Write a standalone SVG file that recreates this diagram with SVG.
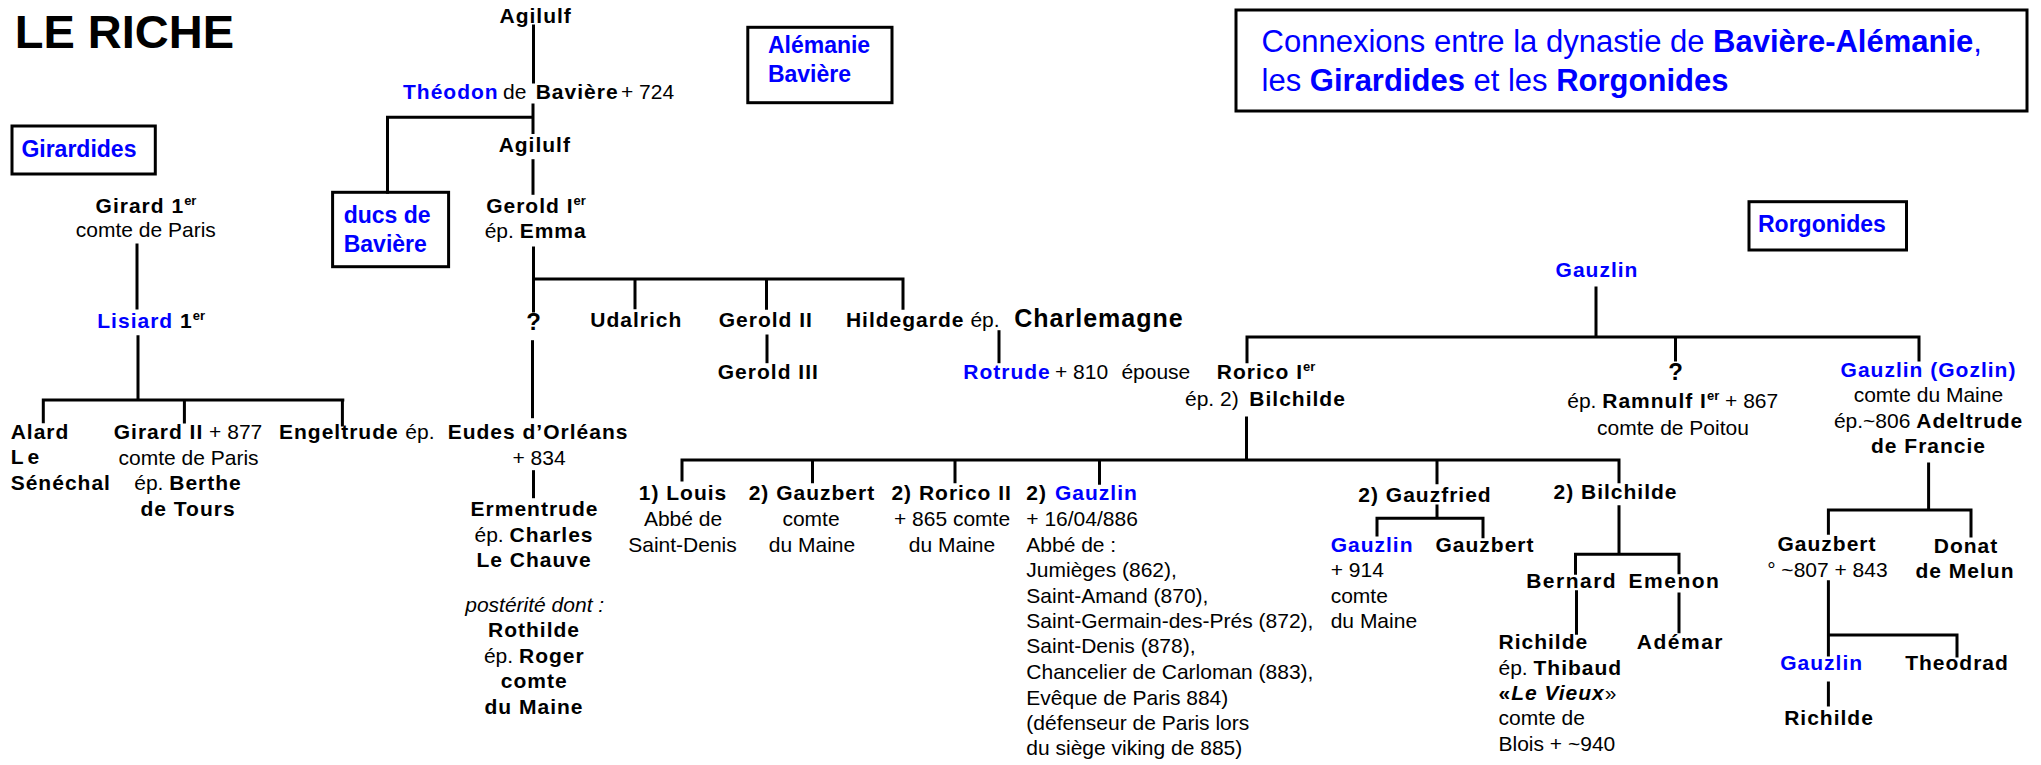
<svg xmlns="http://www.w3.org/2000/svg" width="2041" height="765" viewBox="0 0 2041 765">
<style>
  text { font-family: "Liberation Sans", Arial, Helvetica, sans-serif; font-size: 21px; fill: #000; }
  .m { text-anchor: middle; }
  .b { font-weight: bold; letter-spacing: 1px; }
  .B { font-weight: bold; }
  .i { font-style: italic; }
  .blue { fill: #0000ff; }
  .sup { font-size: 13px; font-weight: bold; }
  .q { font-size: 24px; font-weight: bold; }
  .lbl { font-size: 23px; font-weight: bold; fill: #0000ff; }
  .box { fill: none; stroke: #000; stroke-width: 3; }
  .ln { fill: none; stroke: #000; stroke-width: 3; stroke-linecap: square; }
</style>
<rect width="2041" height="765" fill="#fff"/>

<!-- title -->
<text id="title" x="14.7" y="48" class="B" style="font-size:47px">LE RICHE</text>

<!-- dynasty labels -->
<g id="label-girardides">
  <rect class="box" x="12" y="126" width="143.3" height="48"/>
  <text class="lbl" x="21.4" y="156.7">Girardides</text>
</g>
<g id="label-ducs">
  <rect class="box" x="332.6" y="192.3" width="116" height="74.4"/>
  <text class="lbl" x="343.7" y="222.7">ducs de</text>
  <text class="lbl" x="343.7" y="251.7">Bavière</text>
</g>
<g id="label-alemanie">
  <rect class="box" x="747.8" y="27.3" width="144.2" height="75.4"/>
  <text class="lbl" x="767.9" y="52.7">Alémanie</text>
  <text class="lbl" x="767.9" y="81.7">Bavière</text>
</g>
<g id="label-rorgonides">
  <rect class="box" x="1749" y="201.7" width="157.5" height="48.3"/>
  <text class="lbl" x="1758" y="232.3">Rorgonides</text>
</g>
<g id="label-connexions">
  <rect class="box" x="1236" y="10" width="791" height="101"/>
  <text class="blue" x="1261.6" y="52.3" style="font-size:31px">Connexions entre la dynastie de <tspan class="B">Bavière-Alémanie</tspan>,</text>
  <text class="blue" x="1261.6" y="90.7" style="font-size:31px">les <tspan class="B">Girardides</tspan> et les <tspan class="B">Rorgonides</tspan></text>
</g>

<!-- connectors -->
<g id="connectors" class="ln">
  <path d="M533.5,26V82"/>
  <path d="M533,105V132.5M533,117.3H387.5V192.3"/>
  <path d="M533,160.7V193.3"/>
  <path d="M533.5,248V311"/>
  <path d="M533.5,279H903M635,279V307.7M766.5,279V308.3M903,279V308.3"/>
  <path d="M532.5,341.7V416.7"/>
  <path d="M533.5,471.7V496.7"/>
  <path d="M767,336V361.7"/>
  <path d="M999,331.7V361.7"/>
  <path d="M137,245V308"/>
  <path d="M138,336.7V400M43.3,400H342.8M43.3,400V421.7M184.4,400V422M342.4,400V425"/>
  <path d="M1596,288V337M1247,337H1919M1247,337V361.7M1675.5,337V360M1919,337V360"/>
  <path d="M1246.5,418V460M682,460H1619M682,460V480M812.5,460V481.7M955,460V481.7M1099.5,460V483.3M1437,460V482.7M1619,460V481.7"/>
  <path d="M1437,506V518.3M1377,518.3H1483M1377,518.3V535M1483,518.3V536.7"/>
  <path d="M1619,506.7V554.3M1575.5,554.3H1679M1575.5,554.3V573.3M1679,554.3V572.7"/>
  <path d="M1576.5,591.7V633.3M1679,594V631.7"/>
  <path d="M1928.6,464V510M1828.4,510H1971M1828.4,510V533.3M1971,510V536"/>
  <path d="M1828.4,581.7V655M1828.4,635H1957M1957,635V656"/>
  <path d="M1828.4,683V705"/>
</g>

<!-- Bavière-Alémanie line -->
<g id="agilulf-1"><text class="m b" x="535.7" y="22.7">Agilulf</text></g>
<g id="theodon">
  <text y="99"><tspan x="403" class="b blue">Théodon</tspan><tspan x="503">de</tspan><tspan x="535.7" class="b">Bavière</tspan><tspan x="621">+ 724</tspan></text>
</g>
<g id="agilulf-2"><text class="m b" x="534.8" y="151.7">Agilulf</text></g>
<g id="gerold-1">
  <text class="m" x="536" y="212.7"><tspan class="b">Gerold I</tspan><tspan class="sup" dy="-8">er</tspan></text>
  <text class="m" x="535.7" y="238.3">ép. <tspan class="b">Emma</tspan></text>
</g>
<g id="inconnu-1"><text class="m q" x="533.5" y="330">?</text></g>
<g id="udalrich"><text class="m b" x="636.3" y="326.7">Udalrich</text></g>
<g id="gerold-2"><text class="m b" x="765.8" y="326.7">Gerold II</text></g>
<g id="gerold-3"><text class="m b" x="768.3" y="379.3">Gerold III</text></g>
<g id="hildegarde">
  <text y="327"><tspan x="845.9" class="b">Hildegarde</tspan><tspan x="970.4">ép.</tspan><tspan x="1014.3" class="b" style="font-size:25px">Charlemagne</tspan></text>
</g>
<g id="rotrude">
  <text y="379.3"><tspan x="963.3" class="b blue">Rotrude</tspan><tspan x="1055">+ 810</tspan><tspan x="1121.4">épouse</tspan></text>
</g>

<!-- Girardides -->
<g id="girard-1">
  <text class="m" x="146" y="212.7"><tspan class="b">Girard 1</tspan><tspan class="sup" dy="-8">er</tspan></text>
  <text class="m" x="145.8" y="237.3">comte de Paris</text>
</g>
<g id="lisiard">
  <text x="97.3" y="327.7"><tspan class="b blue">Lisiard</tspan><tspan class="b"> 1</tspan><tspan class="sup" dy="-8">er</tspan></text>
</g>
<g id="alard">
  <text class="b" x="10.7" y="439">Alard</text>
  <text class="b" x="10.7" y="464" style="letter-spacing:4px">Le</text>
  <text class="b" x="10.7" y="489.5">Sénéchal</text>
</g>
<g id="girard-2">
  <text class="m" x="188" y="439"><tspan class="b">Girard II</tspan> + 877</text>
  <text class="m" x="188.6" y="464.5">comte de Paris</text>
  <text class="m" x="188" y="490">ép. <tspan class="b">Berthe</tspan></text>
  <text class="m b" x="188" y="515.5">de Tours</text>
</g>
<g id="engeltrude">
  <text y="439"><tspan x="279" class="b">Engeltrude</tspan><tspan x="405.3">ép.</tspan><tspan x="447.7" class="b">Eudes d’Orléans</tspan></text>
  <text class="m" x="539" y="464.5">+ 834</text>
</g>
<g id="ermentrude">
  <text class="m b" x="534.5" y="516">Ermentrude</text>
  <text class="m" x="534" y="541.7">ép. <tspan class="b">Charles</tspan></text>
  <text class="m b" x="534" y="566.7">Le Chauve</text>
  <text class="m i" x="534.7" y="611.7">postérité dont :</text>
  <text class="m b" x="534" y="637.3">Rothilde</text>
  <text class="m" x="534.3" y="662.7">ép. <tspan class="b">Roger</tspan></text>
  <text class="m b" x="534.3" y="688.3">comte</text>
  <text class="m b" x="534" y="714">du Maine</text>
</g>

<!-- Rorgonides -->
<g id="gauzlin-0"><text class="m b blue" x="1597" y="276.7">Gauzlin</text></g>
<g id="rorico-1">
  <text x="1216.8" y="379.3"><tspan class="b">Rorico I</tspan><tspan class="sup" dy="-8">er</tspan></text>
  <text y="405.7"><tspan x="1185">ép. 2)</tspan><tspan x="1249.3" class="b">Bilchilde</tspan></text>
</g>
<g id="inconnu-2">
  <text class="m q" x="1675.7" y="380">?</text>
  <text class="m" x="1672.7" y="408.3">ép. <tspan class="b">Ramnulf I</tspan><tspan class="sup" dy="-8">er</tspan><tspan dy="8"> + 867</tspan></text>
  <text class="m" x="1673" y="435">comte de Poitou</text>
</g>
<g id="gauzlin-gozlin">
  <text class="m b blue" x="1928.5" y="376.7">Gauzlin  (Gozlin)</text>
  <text class="m" x="1928.4" y="401.7">comte du Maine</text>
  <text class="m" x="1928.6" y="428.3">ép.~806 <tspan class="b">Adeltrude</tspan></text>
  <text class="m b" x="1928.5" y="453.3">de Francie</text>
</g>
<g id="gauzbert-maine">
  <text class="m b" x="1827" y="550.7">Gauzbert</text>
  <text class="m" x="1827.4" y="576.7">° ~807 + 843</text>
</g>
<g id="donat">
  <text class="m b" x="1966" y="553.3">Donat</text>
  <text class="m b" x="1965" y="577.7">de Melun</text>
</g>
<g id="gauzlin-5"><text class="m b blue" x="1821.7" y="670">Gauzlin</text></g>
<g id="theodrad"><text class="m b" x="1957" y="670">Theodrad</text></g>
<g id="richilde-2"><text class="m b" x="1829" y="725">Richilde</text></g>

<!-- children of Rorico Ier -->
<g id="louis">
  <text class="m b" x="683" y="500">1) Louis</text>
  <text class="m" x="683" y="526">Abbé de</text>
  <text class="m" x="682.5" y="551.7">Saint-Denis</text>
</g>
<g id="gauzbert-1">
  <text class="m b" x="811.9" y="500">2) Gauzbert</text>
  <text class="m" x="811" y="526">comte</text>
  <text class="m" x="812" y="551.7">du Maine</text>
</g>
<g id="rorico-2">
  <text class="m b" x="951.7" y="500">2) Rorico II</text>
  <text class="m" x="952" y="526">+ 865 comte</text>
  <text class="m" x="952" y="551.7">du Maine</text>
</g>
<g id="gauzlin-abbe">
  <text y="500"><tspan x="1026.3" class="b">2)</tspan><tspan x="1055" class="b blue">Gauzlin</tspan></text>
  <text x="1026.3" y="526">+ 16/04/886</text>
  <text x="1026.3" y="551.7">Abbé de :</text>
  <text x="1026.3" y="576.7">Jumièges (862),</text>
  <text x="1026.3" y="602.7">Saint-Amand (870),</text>
  <text x="1026.3" y="628.3">Saint-Germain-des-Prés  (872),</text>
  <text x="1026.3" y="653.3">Saint-Denis (878),</text>
  <text x="1026.3" y="679.3">Chancelier de Carloman  (883),</text>
  <text x="1026.3" y="705">Evêque de Paris 884)</text>
  <text x="1026.3" y="730">(défenseur de Paris lors</text>
  <text x="1026.3" y="755">du siège viking de 885)</text>
</g>
<g id="gauzfried"><text class="m b" x="1425" y="501.7">2) Gauzfried</text></g>
<g id="gauzlin-914">
  <text class="b blue" x="1330.7" y="551.7">Gauzlin</text>
  <text x="1330.7" y="577.3">+ 914</text>
  <text x="1330.7" y="603.3">comte</text>
  <text x="1330.7" y="628.3">du Maine</text>
</g>
<g id="gauzbert-2"><text class="m b" x="1485" y="551.7">Gauzbert</text></g>
<g id="bilchilde"><text class="m b" x="1615.5" y="499.3">2) Bilchilde</text></g>
<g id="bernard"><text class="m b" x="1571.7" y="588.3" style="letter-spacing:1.5px">Bernard</text></g>
<g id="emenon"><text class="m b" x="1674.5" y="588.3" style="letter-spacing:1.5px">Emenon</text></g>
<g id="richilde-1">
  <text class="b" x="1498.5" y="649.3">Richilde</text>
  <text x="1498.5" y="675">ép. <tspan class="b">Thibaud</tspan></text>
  <text x="1498.5" y="700"><tspan class="b">«</tspan><tspan class="b i">Le Vieux</tspan>»</text>
  <text x="1498.5" y="725">comte de</text>
  <text x="1498.5" y="750.7">Blois + ~940</text>
</g>
<g id="ademar"><text class="m b" x="1680.4" y="649.3" style="letter-spacing:1.5px">Adémar</text></g>
</svg>
